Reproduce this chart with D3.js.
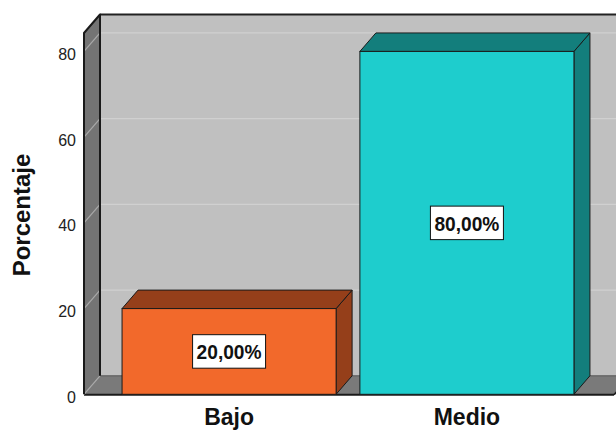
<!DOCTYPE html>
<html>
<head>
<meta charset="utf-8">
<script src="https://cdn.jsdelivr.net/npm/d3@7"></script>
<style>
  html, body { margin: 0; padding: 0; background: #ffffff; }
  svg { display: block; font-family: "Liberation Sans", Arial, sans-serif; }
</style>
</head>
<body>
<svg id="chart" width="616" height="430"></svg>
<script>
// Data
const categories = ["Bajo", "Medio"];
const values = [20, 80];
const valueLabels = ["20,00%", "80,00%"];
const yTicks = [0, 20, 40, 60, 80];
const yMax = 84.3;
const yTitle = "Porcentaje";

// Colours: front face, top/side face
const frontColors = ["#f2692b", "#1ecdcd"];
const shadeColors = ["#953f1a", "#137e7c"];

const svg = d3.select("#chart");

// 3D depth offset of the plot box
const dx = 16, dy = 18.5;
const left = 84, right = 612;

const y = d3.scaleLinear().domain([0, yMax]).range([394.3, 33]);
const x = d3.scaleBand().domain(categories).range([left, right])
  .paddingInner(0.1).paddingOuter(0.16);

const y0 = y(0), yTop = y(yMax);
const pts = p => p.map(d => d.join(",")).join(" ");

// Back wall
svg.append("rect")
  .attr("x", left + dx).attr("y", yTop - dy)
  .attr("width", 640 - left - dx).attr("height", y0 - yTop)
  .attr("fill", "#c0c0c0");

// Gridlines on back wall
svg.append("g").selectAll("line").data(yTicks.filter(t => t > 0)).join("line")
  .attr("x1", left + dx).attr("x2", 640)
  .attr("y1", d => y(d) - dy).attr("y2", d => y(d) - dy)
  .attr("stroke", "#d0d0d0").attr("stroke-width", 1.2);

// Top edge of back wall
svg.append("line")
  .attr("x1", left + dx).attr("x2", 640)
  .attr("y1", yTop - dy).attr("y2", yTop - dy)
  .attr("stroke", "#222").attr("stroke-width", 2);

// Floor
svg.append("polygon")
  .attr("points", pts([[left, y0], [left + dx, y0 - dy], [640, y0 - dy], [640, y0]]))
  .attr("fill", "#7a7a7a");
svg.append("line")
  .attr("x1", left + dx).attr("x2", 640)
  .attr("y1", y0 - dy).attr("y2", y0 - dy)
  .attr("stroke", "#555").attr("stroke-width", 1);
svg.append("line")
  .attr("x1", left).attr("x2", right + 2)
  .attr("y1", y0 + 0.5).attr("y2", y0 + 0.5)
  .attr("stroke", "#1a1a1a").attr("stroke-width", 2);
svg.append("line")
  .attr("x1", right + 2).attr("x2", right + 2 + dx)
  .attr("y1", y0 + 0.5).attr("y2", y0 + 0.5 - dy)
  .attr("stroke", "#1a1a1a").attr("stroke-width", 1.5);

// Left wall
svg.append("polygon")
  .attr("points", pts([[left, yTop], [left + dx, yTop - dy], [left + dx, y0 - dy], [left, y0]]))
  .attr("fill", "#747474");
svg.append("g").selectAll("line").data(yTicks).join("line")
  .attr("x1", left).attr("x2", left + dx)
  .attr("y1", d => y(d)).attr("y2", d => y(d) - dy)
  .attr("stroke", "#a9a9a9").attr("stroke-width", 1.2);
svg.append("polyline")
  .attr("points", pts([[left, y0], [left, yTop], [left + dx, yTop - dy], [left + dx, y0 - dy]]))
  .attr("fill", "none").attr("stroke", "#1a1a1a").attr("stroke-width", 2)
  .attr("stroke-linejoin", "round");

// Bars
const bars = svg.append("g").selectAll("g").data(categories).join("g");
bars.each(function (c, i) {
  const g = d3.select(this);
  const x0 = x(c), x1 = x(c) + x.bandwidth(), yt = y(values[i]);
  g.append("polygon")
    .attr("points", pts([[x1, yt], [x1 + dx, yt - dy], [x1 + dx, y0 - dy], [x1, y0]]))
    .attr("fill", shadeColors[i]).attr("stroke", "#1a1a1a").attr("stroke-width", 1)
    .attr("stroke-linejoin", "round");
  g.append("polygon")
    .attr("points", pts([[x0, yt], [x0 + dx, yt - dy], [x1 + dx, yt - dy], [x1, yt]]))
    .attr("fill", shadeColors[i]).attr("stroke", "#1a1a1a").attr("stroke-width", 1)
    .attr("stroke-linejoin", "round");
  g.append("rect")
    .attr("x", x0).attr("y", yt)
    .attr("width", x.bandwidth()).attr("height", y0 - yt)
    .attr("fill", frontColors[i]).attr("stroke", "#1a1a1a").attr("stroke-width", 1);

  // Value label box
  const cx = x0 + x.bandwidth() / 2, cy = (yt + y0) / 2;
  const bw = 73, bh = 33.5;
  g.append("rect")
    .attr("x", cx - bw / 2).attr("y", cy - bh / 2)
    .attr("width", bw).attr("height", bh)
    .attr("fill", "#ffffff").attr("stroke", "#111").attr("stroke-width", 1);
  g.append("text")
    .attr("x", cx).attr("y", cy + 7.8)
    .attr("text-anchor", "middle")
    .attr("font-size", 21).attr("font-weight", "bold").attr("fill", "#111")
    .attr("textLength", 65).attr("lengthAdjust", "spacingAndGlyphs")
    .text(valueLabels[i]);
});

// Y axis tick labels
const yAxis = svg.append("g")
  .attr("transform", "translate(76,3)")
  .call(d3.axisLeft(y).tickValues(yTicks).tickSize(0).tickPadding(0).tickFormat(d3.format("d")));
yAxis.select(".domain").remove();
yAxis.selectAll("text").attr("font-size", 16).attr("fill", "#222")
  .attr("font-family", "'Liberation Sans', Arial, sans-serif");

// X axis category labels
const xAxis = svg.append("g")
  .attr("transform", "translate(0,409)")
  .call(d3.axisBottom(x).tickSize(0).tickPadding(0));
xAxis.select(".domain").remove();
xAxis.selectAll("text").attr("font-size", 23).attr("font-weight", "bold").attr("fill", "#111")
  .attr("font-family", "'Liberation Sans', Arial, sans-serif");

// Y axis title
svg.append("text")
  .attr("transform", "translate(30,215) rotate(-90)")
  .attr("text-anchor", "middle")
  .attr("font-size", 24).attr("font-weight", "bold").attr("fill", "#111")
  .text(yTitle);
</script>
</body>
</html>
